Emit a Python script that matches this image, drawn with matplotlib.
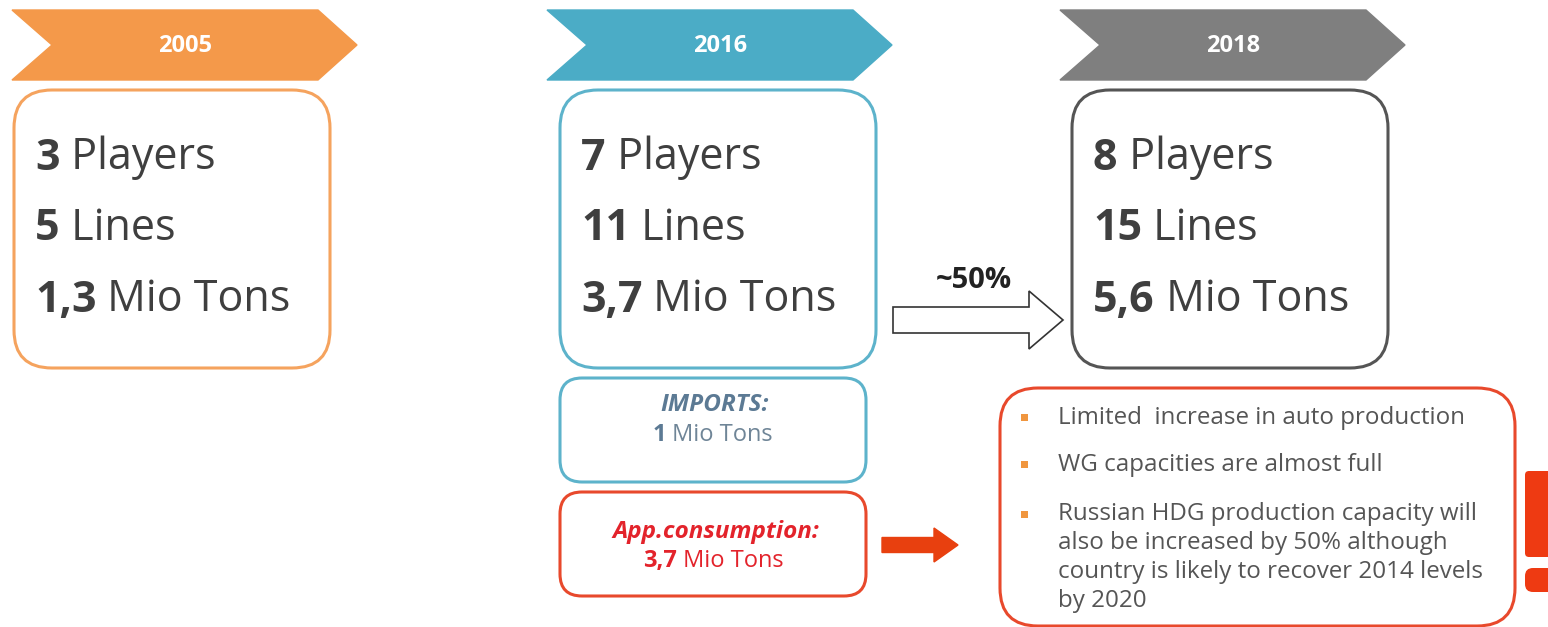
import matplotlib
matplotlib.use("Agg")
import matplotlib.pyplot as plt
from matplotlib.patches import FancyBboxPatch, Polygon, FancyArrow

# ---- data ----
years = ["2005", "2016", "2018"]
players = ["3", "7", "8"]
lines_ = ["5", "11", "15"]
tons = ["1,3", "3,7", "5,6"]
imports_value = "1"
consumption_value = "3,7"
growth_label = "~50%"
bullets = [
    "Limited  increase in auto production",
    "WG capacities are almost full",
    "Russian HDG production capacity will\nalso be increased by 50% although\ncountry is likely to recover 2014 levels\nby 2020",
]

# ---- style ----
FONT = "Open Sans"
col_year = ["#F4994A", "#4BACC6", "#7F7F7F"]
col_box = ["#F5A35E", "#5DB3CB", "#555555"]
col_text = "#3F3F3F"
red = "#E8492C"
red_text = "#E3232B"
imp_text = "#5C7A94"

W, H = 1548, 627
fig = plt.figure(figsize=(W / 100, H / 100), dpi=100)
ax = fig.add_axes([0, 0, 1, 1])
ax.set_xlim(0, W)
ax.set_ylim(H, 0)
ax.axis("off")
renderer = fig.canvas.get_renderer()

chev_x = [12, 547, 1060]
box_x = [14, 560, 1072]


def chevron(x0, color, label):
    w, notch, tip = 345, 40, 39
    pts = [(x0, 10), (x0 + w - tip, 10), (x0 + w, 45), (x0 + w - tip, 80),
           (x0, 80), (x0 + notch, 45)]
    ax.add_patch(Polygon(pts, closed=True, fc=color, ec=color, lw=1))
    ax.text(x0 + 173, 46, label, color="white", fontsize=17,
            fontweight="bold", ha="center", va="center", family=FONT)


def rbox(x, y, w, h, ec, r=38, lw=2.2):
    ax.add_patch(FancyBboxPatch((x, y), w, h, boxstyle=f"round,pad=0,rounding_size={r}",
                                fc="white", ec=ec, lw=lw))


def mixed(x, y, bold, rest, size, color_b, color_r, ha="left"):
    tb = ax.text(x, y, bold, fontsize=size, fontweight="bold", color=color_b,
                 va="center", ha="left", family=FONT)
    tr = ax.text(x, y, rest, fontsize=size, color=color_r, va="center", ha="left",
                 family=FONT)
    bb = tb.get_window_extent(renderer)
    br = tr.get_window_extent(renderer)
    total = bb.width + br.width
    start = x - total / 2 if ha == "center" else x
    tb.set_x(start)
    tr.set_x(start + bb.width)


for i in range(3):
    chevron(chev_x[i], col_year[i], years[i])
    rbox(box_x[i], 90, 316, 278, col_box[i])
    bx = box_x[i] + 21
    mixed(bx, 158, players[i], " Players", 31, col_text, col_text)
    mixed(bx, 229, lines_[i], " Lines", 31, col_text, col_text)
    mixed(bx, 300, tons[i], " Mio Tons", 31, col_text, col_text)

# imports and consumption boxes
rbox(560, 378, 306, 104, "#5DB3CB", r=22)
ax.text(715, 405, "IMPORTS:", fontsize=17.5, fontweight="bold", style="italic",
        color=imp_text, ha="center", va="center", family=FONT)
mixed(713, 435, imports_value, " Mio Tons", 17, imp_text, "#6F8597", ha="center")

rbox(560, 492, 306, 104, red, r=22)
ax.text(716, 532, "App.consumption:", fontsize=17.5, fontweight="bold", style="italic",
        color=red_text, ha="center", va="center", family=FONT)
mixed(713, 561, consumption_value, " Mio Tons", 17, red_text, red_text, ha="center")

# red arrow
ax.add_patch(FancyArrow(882, 545, 76, 0, width=15, head_width=34, head_length=24,
                        length_includes_head=True, fc="#E8400F", ec="#E8400F"))

# growth arrow (outline)
ax.add_patch(FancyArrow(893, 320, 170, 0, width=26, head_width=58, head_length=34,
                        length_includes_head=True, fc="white", ec="#333333", lw=1.2))
ax.text(974, 281, growth_label, fontsize=21, fontweight="bold", color="#222222",
        ha="center", va="center", family=FONT)

# bullet box
rbox(1000, 388, 515, 238, red, r=38)
bullet_y = [418, 465, 515]
for by, txt in zip(bullet_y, bullets):
    ax.add_patch(plt.Rectangle((1021, by - 4), 7, 7, fc="#F0963F", ec="none"))
    if "\n" in txt:
        ax.text(1058, by - 13, txt, fontsize=17.4, color="#555555", ha="left", va="top",
                family=FONT, linespacing=1.28)
    else:
        ax.text(1058, by, txt, fontsize=17.4, color="#555555", ha="left", va="center",
                family=FONT)

# exclamation mark
ax.add_patch(FancyBboxPatch((1525, 471), 40, 86, boxstyle="round,pad=0,rounding_size=4",
                            fc="#EE3A12", ec="none"))
ax.add_patch(FancyBboxPatch((1525, 568), 40, 24, boxstyle="round,pad=0,rounding_size=8",
                            fc="#EE3A12", ec="none"))

fig.savefig("out.png", dpi=100)
